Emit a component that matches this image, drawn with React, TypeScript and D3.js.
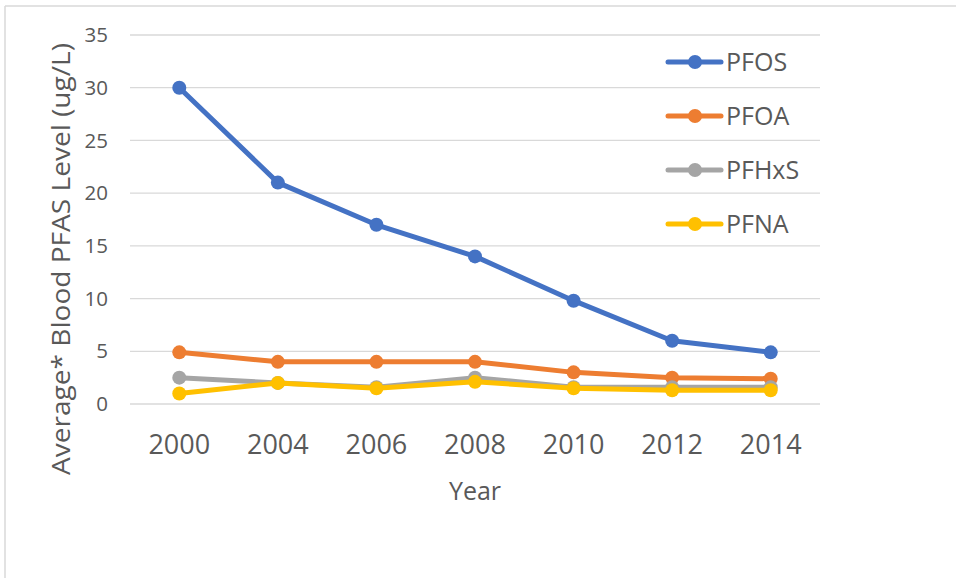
import React from 'react'
import * as d3 from 'd3'

const years = ['2000', '2004', '2006', '2008', '2010', '2012', '2014']
const yTicks = [0, 5, 10, 15, 20, 25, 30, 35]

const pfos = [30, 21, 17, 14, 9.8, 6, 4.9]
const pfoa = [4.9, 4, 4, 4, 3, 2.5, 2.4]
const pfhxs = [2.5, 2, 1.6, 2.5, 1.6, 1.6, 1.6]
const pfna = [1, 2, 1.5, 2.1, 1.5, 1.3, 1.3]

const seriesNames = ['PFOS', 'PFOA', 'PFHxS', 'PFNA']
const seriesColors = ['#4472C4', '#ED7D31', '#A5A5A5', '#FFC000']

export default function App() {
  const width = 956
  const height = 578
  const marginLeft = 130
  const marginRight = 136
  const marginTop = 35
  const bottomY = 404

  const series = [pfos, pfoa, pfhxs, pfna]

  const x = d3.scalePoint().domain(years).range([marginLeft, width - marginRight]).padding(0.5)
  const y = d3.scaleLinear().domain([0, 35]).range([bottomY, marginTop])

  const line = d3.line<number>()
    .x((d, i) => x(years[i]) as number)
    .y(d => y(d))

  const font = '"Open Sans", sans-serif'
  const textColor = '#595959'

  return (
    <div style={{ position: 'fixed', left: 0, top: 0 }}>
      <svg width={width} height={height} style={{ display: 'block', background: 'white' }}>
        {/* chart border */}
        <line x1={5} y1={6} x2={width} y2={6} stroke="#d9d9d9" strokeWidth={1.5} />
        <line x1={5} y1={6} x2={5} y2={height} stroke="#d9d9d9" strokeWidth={1.5} />

        {/* gridlines */}
        <g stroke="#d9d9d9" strokeWidth={1.3}>
          {yTicks.map(t => (
            <line key={t} x1={marginLeft} x2={width - marginRight} y1={y(t)} y2={y(t)} />
          ))}
        </g>

        {/* y tick labels */}
        <g fontFamily={font} fontSize={20.5} fill={textColor} textAnchor="end">
          {yTicks.map(t => (
            <text key={t} x={108} y={y(t)} dy="0.35em">{t}</text>
          ))}
        </g>

        {/* x tick labels */}
        <g fontFamily={font} fontSize={27} fill={textColor} textAnchor="middle">
          {years.map(yr => (
            <text key={yr} x={x(yr)} y={454}>{yr}</text>
          ))}
        </g>

        {/* axis titles */}
        <text x={475} y={500} fontFamily={font} fontSize={25} fill={textColor} textAnchor="middle">Year</text>
        <text
          transform="translate(70,259) rotate(-90)"
          fontFamily={font} fontSize={26} fill={textColor} textAnchor="middle"
          textLength={432} lengthAdjust="spacingAndGlyphs"
        >Average* Blood PFAS Level (ug/L)</text>

        {/* series */}
        {series.map((vals, si) => (
          <g key={seriesNames[si]}>
            <path d={line(vals) as string} fill="none" stroke={seriesColors[si]} strokeWidth={5} strokeLinejoin="round" strokeLinecap="round" />
            {vals.map((v, i) => (
              <circle key={i} cx={x(years[i])} cy={y(v)} r={7} fill={seriesColors[si]} />
            ))}
          </g>
        ))}

        {/* legend */}
        <g fontFamily={font} fontSize={25} fill={textColor}>
          {seriesNames.map((name, i) => {
            const ly = 62 + i * 54
            return (
              <g key={name}>
                <rect x={660} y={ly - 20} width={170} height={40} fill="white" />
                <line x1={668} x2={721} y1={ly} y2={ly} stroke={seriesColors[i]} strokeWidth={5} strokeLinecap="round" />
                <circle cx={695} cy={ly} r={7} fill={seriesColors[i]} />
                <text x={726} y={ly} dy="0.36em">{name}</text>
              </g>
            )
          })}
        </g>
      </svg>
    </div>
  )
}
